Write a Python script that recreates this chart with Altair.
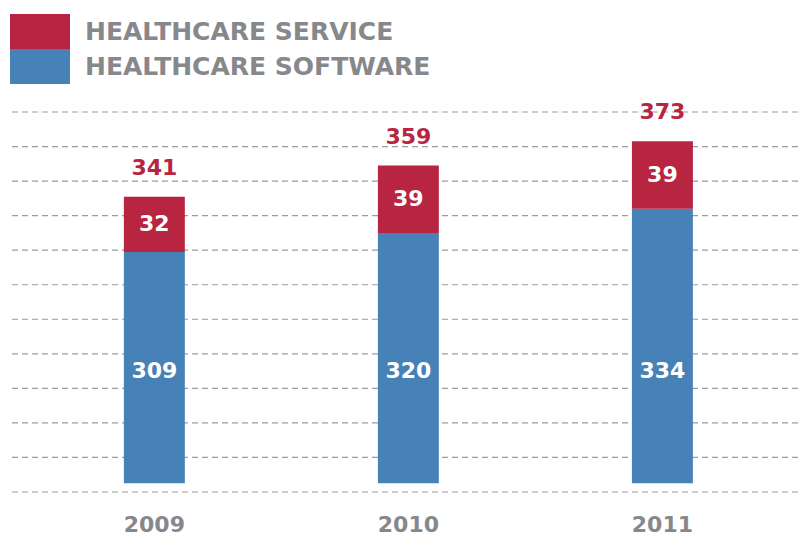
import altair as alt
import pandas as pd

YEARS = ["2009", "2010", "2011"]
SOFTWARE = [309, 320, 334]
SERVICE = [32, 39, 39]
TOTALS = [341, 359, 373]
SERIES = ["HEALTHCARE SERVICE", "HEALTHCARE SOFTWARE"]
GRID_VALUES = [170, 190, 210, 230, 250, 270, 290, 310, 330, 350, 370, 390]
BASE = 175          # value where the bars start (axis is not zero based)
SOFT_LABEL_AT = 240  # value level at which the software labels sit

RED = "#B82540"
BLUE = "#4682B7"
GREY = "#87888B"
FONT = "DejaVu Sans"

rows = []
for yr, sw, sv, tot in zip(YEARS, SOFTWARE, SERVICE, TOTALS):
    rows.append(dict(year=yr, series=SERIES[1], lo=BASE, hi=sw, val=str(sw), total=str(tot)))
    rows.append(dict(year=yr, series=SERIES[0], lo=sw, hi=sw + sv, val=str(sv), total=str(tot)))
df = pd.DataFrame(rows)
grid_df = pd.DataFrame({"g": GRID_VALUES})

x = alt.X(
    "year:N", sort=YEARS,
    scale=alt.Scale(paddingInner=0.76, paddingOuter=0.431, align=0.52),
    axis=alt.Axis(title=None, labelAngle=0, ticks=False, domain=False,
                  labelFont=FONT, labelFontSize=22, labelFontWeight="bold",
                  labelColor=GREY, labelPadding=39, labelBaseline="alphabetic"),
)
yscale = alt.Scale(domain=[170, 390], nice=False, zero=False)

grid = alt.Chart(grid_df).mark_rule(
    color="#9c9c9c", strokeWidth=1.2, strokeDash=[6, 4]
).encode(y=alt.Y("g:Q", scale=yscale, axis=None))

base = alt.Chart(df)

bars = base.mark_bar().encode(
    x=x,
    y=alt.Y("hi:Q", scale=yscale, axis=None),
    y2="lo:Q",
    color=alt.Color(
        "series:N",
        scale=alt.Scale(domain=SERIES, range=[RED, BLUE]),
        legend=alt.Legend(
            title=None, orient="none", legendX=0, legendY=-98,
            symbolType="M-1,-0.583H1V0.583H-1Z", symbolSize=3600,
            symbolStrokeWidth=0, symbolOpacity=1, clipHeight=35,
            labelFont=FONT, labelFontSize=25, labelFontWeight="bold",
            labelColor=GREY, labelOffset=15, rowPadding=0, padding=0,
            labelLimit=600, direction="vertical",
        ),
    ),
)

service = base.transform_filter(alt.datum.series == SERIES[0])
software = base.transform_filter(alt.datum.series == SERIES[1])

txt = dict(font=FONT, fontSize=22, fontWeight="bold")

total_text = service.mark_text(baseline="alphabetic", dy=-22, color=RED, **txt).encode(
    x=x, y=alt.Y("hi:Q", scale=yscale), text="total:N"
)
service_text = service.transform_calculate(mid="(datum.lo + datum.hi) / 2").mark_text(
    baseline="middle", color="white", **txt
).encode(x=x, y=alt.Y("mid:Q", scale=yscale), text="val:N")
software_text = software.mark_text(baseline="middle", color="white", **txt).encode(
    x=x, y=alt.datum(SOFT_LABEL_AT), text="val:N"
)

chart = alt.layer(grid, bars, total_text, service_text, software_text).properties(
    width=788, height=380,
    padding={"left": 2, "top": 104, "right": 0, "bottom": 44},
    autosize=alt.AutoSizeParams(type="none"),
    background="white",
).configure_view(stroke=None)

chart.save("out.html", embed_options={"renderer": "svg", "actions": False})
